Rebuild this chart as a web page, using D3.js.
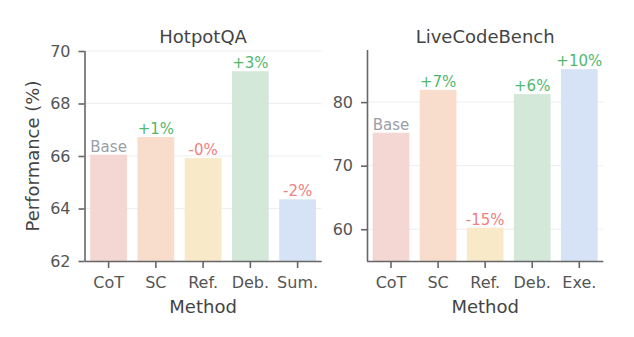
<!DOCTYPE html>
<html><head><meta charset="utf-8">
<script src="https://cdn.jsdelivr.net/npm/d3@7"></script>
<style>body{margin:0;background:#fff}svg{display:block}text{font-family:"DejaVu Sans",sans-serif}</style>
</head><body><svg id="c" width="634" height="337"></svg>
<script>
const hotpotCats = ["CoT","SC","Ref.","Deb.","Sum."];
const hotpotVals = [66.05, 66.72, 65.92, 69.23, 64.35];
const hotpotLabels = ["Base","+1%","-0%","+3%","-2%"];
const hotpotTicks = [62,64,66,68,70];
const lcbCats = ["CoT","SC","Ref.","Deb.","Exe."];
const lcbVals = [75.18, 81.93, 60.25, 81.26, 85.18];
const lcbLabels = ["Base","+7%","-15%","+6%","+10%"];
const lcbTicks = [60,70,80];
const barColors = ["#f4d6d2","#f8ddcc","#f8eac9","#d4e8d9","#d6e2f5"];

const svg = d3.select("#c");
function labelColor(l){ return l==="Base" ? "#9a9ea8" : (l[0]==="+" ? "#52b86c" : "#f08080"); }

function panel(cats, vals, labels, ticks, domain, x0, x1, yBottom, yTop, title, ylab){
  const x = d3.scaleBand().domain(cats).range([x0,x1]).paddingInner(0.22).paddingOuter(0.12);
  const y = d3.scaleLinear().domain(domain).range([yBottom,yTop]);
  const g = svg.append("g");
  // grid
  g.selectAll("line.grid").data(ticks).join("line")
    .attr("x1",x0).attr("x2",x1).attr("y1",d=>y(d)).attr("y2",d=>y(d))
    .attr("stroke","#eeeeee").attr("stroke-width",1);
  // bars
  g.selectAll("rect").data(cats).join("rect")
    .attr("x",d=>x(d)).attr("width",x.bandwidth())
    .attr("y",(d,i)=>y(vals[i])).attr("height",(d,i)=>yBottom-y(vals[i]))
    .attr("fill",(d,i)=>barColors[i]);
  // bar labels
  g.selectAll("text.bl").data(cats).join("text")
    .attr("x",d=>x(d)+x.bandwidth()/2).attr("y",(d,i)=>y(vals[i])-3)
    .attr("text-anchor","middle").attr("font-size",15)
    .attr("fill",(d,i)=>labelColor(labels[i])).text((d,i)=>labels[i]);
  // axes
  const ya = g.append("g").attr("transform",`translate(${x0},0)`)
    .call(d3.axisLeft(y).tickValues(ticks).tickSize(6).tickPadding(8).tickFormat(d3.format("d")));
  const xa = g.append("g").attr("transform",`translate(0,${yBottom})`)
    .call(d3.axisBottom(x).tickSize(7).tickPadding(9));
  [ya,xa].forEach(a=>{
    a.select(".domain").attr("stroke","#666").attr("stroke-width",1.6);
    a.selectAll(".tick line").attr("stroke","#666").attr("stroke-width",1.6);
    a.selectAll(".tick text").attr("fill","#555").attr("font-size",16).attr("font-family","DejaVu Sans");
  });
  ya.select(".domain").attr("d",`M0.5,${yBottom}V${yTop}`);
  xa.select(".domain").attr("d",`M${x0},0.5H${x1}`);
  const cx = (x0+x1)/2;
  g.append("text").attr("x",cx).attr("y",42.5).attr("text-anchor","middle")
    .attr("font-size",18).attr("fill","#444").text(title);
  g.append("text").attr("x",cx).attr("y",312.5).attr("text-anchor","middle")
    .attr("font-size",18).attr("fill","#444").text("Method");
  if(ylab){
    g.append("text").attr("transform",`translate(38.5,${(yBottom+yTop)/2}) rotate(-90)`)
      .attr("text-anchor","middle").attr("font-size",18).attr("fill","#444").text(ylab);
  }
}
panel(hotpotCats, hotpotVals, hotpotLabels, hotpotTicks, [62,70], 84.5, 321.7, 261, 51, "HotpotQA", "Performance (%)");
panel(lcbCats, lcbVals, lcbLabels, lcbTicks, [55.0,88.2], 367, 603.3, 261, 50, "LiveCodeBench", null);
</script></body></html>
